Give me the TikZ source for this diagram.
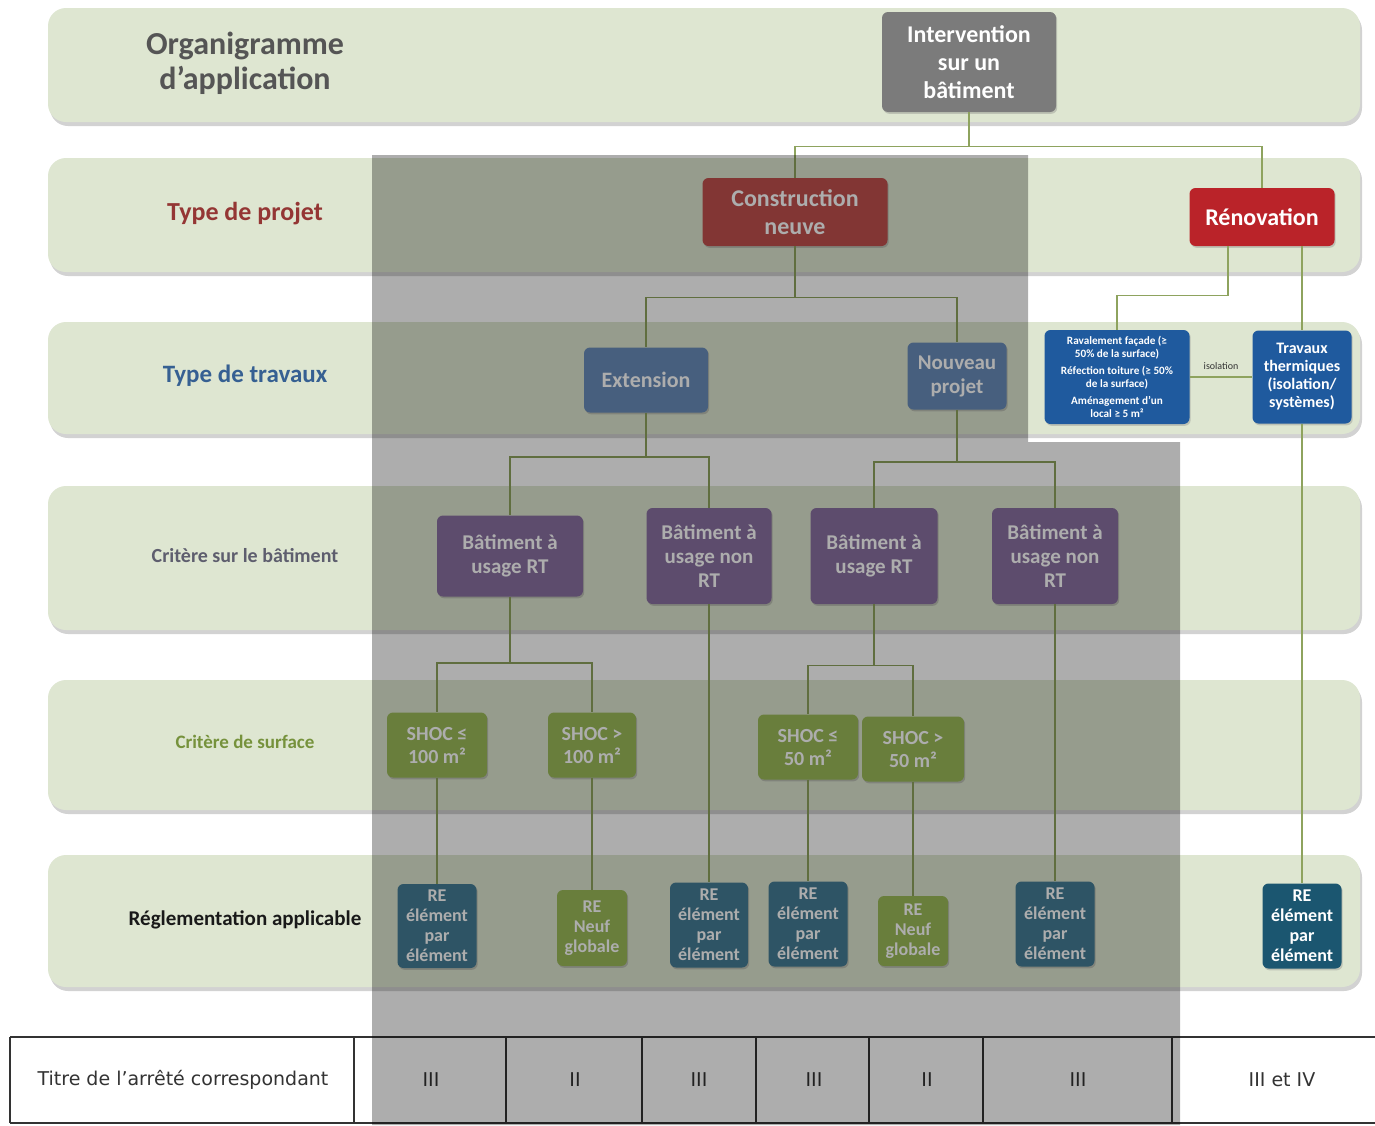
\documentclass[tikz,border=0pt]{standalone}
\usepackage{fontspec}
\setmainfont{Carlito}
\newfontfamily\tablefont{DejaVu Sans}
\usetikzlibrary{shadows}

\definecolor{bandgreen}{HTML}{DEE6D1}
\definecolor{linkgreen}{HTML}{8EA35E}
\definecolor{intergrey}{HTML}{7B7B7B}
\definecolor{newred}{HTML}{C0504D}
\definecolor{renovred}{HTML}{BA2329}
\definecolor{extblue}{HTML}{6A8DBA}
\definecolor{renovblue}{HTML}{1F5A9E}
\definecolor{usepurple}{HTML}{8A71A2}
\definecolor{shocgreen}{HTML}{9BBB59}
\definecolor{reteal}{HTML}{457D96}
\definecolor{renovteal}{HTML}{1B5670}
\definecolor{titlegrey}{HTML}{555555}
\definecolor{projred}{HTML}{943634}
\definecolor{workblue}{HTML}{366092}
\definecolor{critgrey}{HTML}{5E5E6E}
\definecolor{surfgreen}{HTML}{76923C}

\tikzset{
  band/.style={rounded corners=9pt, fill=bandgreen,
    drop shadow={shadow xshift=1pt, shadow yshift=-2pt, opacity=.35}},
  box/.style={rounded corners=3pt, fill=#1, text=white, align=center, inner sep=1pt,
    font=\fontsize{10.5}{12}\selectfont\bfseries,
    drop shadow={shadow xshift=.6pt, shadow yshift=-.9pt, opacity=.35}},
  dims/.style 2 args={minimum width=#1, minimum height=#2},
  rowlabel/.style={align=center, text=#1},
  link/.style={draw=linkgreen, line width=.7pt},
  tableline/.style={draw=black!80, line width=1pt},
  cell/.style={font=\tablefont\fontsize{9.5}{11}\selectfont, text=black!80}
}

\begin{document}
\begin{tikzpicture}[x=0.5pt, y=-0.5pt]
  \useasboundingbox (0,0) rectangle (1375,1125);
  \fill[white] (0,0) rectangle (1375,1125);

  \foreach \t/\b in {8/122, 158/272, 322/434, 486/630, 680/810, 855/987}
    \path[band] (48,\t) rectangle (1360,\b);

  \node[rowlabel=titlegrey, font=\fontsize{16}{17.5}\selectfont\bfseries] (lab1) at (245,63) {Organigramme\\d’application};
  \node[rowlabel=projred, font=\fontsize{13}{15}\selectfont\bfseries] (lab2) at (245,214) {Type de projet};
  \node[rowlabel=workblue, font=\fontsize{12.5}{15}\selectfont\bfseries] (lab3) at (245,376) {Type de travaux};
  \node[rowlabel=critgrey, font=\fontsize{10}{12}\selectfont\bfseries] (lab4) at (245,556) {Critère sur le bâtiment};
  \node[rowlabel=surfgreen, font=\fontsize{9.5}{12}\selectfont\bfseries] (lab5) at (245,742) {Critère de surface};
  \node[rowlabel=black!90, font=\fontsize{10.5}{12}\selectfont\bfseries] (lab6) at (245,920) {Réglementation applicable};

  \node[box=intergrey, dims={87pt}{50pt}, font=\fontsize{12}{14}\selectfont\bfseries] (interv) at (969,62) {Intervention\\sur un\\bâtiment};
  \node[box=newred, dims={92.5pt}{34pt}, font=\fontsize{12}{14}\selectfont\bfseries] (constr) at (795,212) {Construction\\neuve};
  \node[box=renovred, dims={72.5pt}{29pt}, font=\fontsize{12}{14}\selectfont\bfseries] (renov) at (1262,217) {Rénovation};

  \node[box=extblue, dims={62pt}{32.5pt}, font=\fontsize{11}{12}\selectfont\bfseries] (ext) at (646,380) {Extension};
  \node[box=extblue, dims={49.5pt}{33.5pt}] (nouv) at (957,376) {Nouveau\\projet};
  \node[box=renovblue, dims={72.5pt}{47pt}, font=\fontsize{5.6}{6.5}\selectfont\bfseries] (rav) at (1117,377)
    {Ravalement façade (≥\\50\% de la surface)\\[2pt]Réfection toiture (≥ 50\%\\de la surface)\\[2pt]Aménagement d’un\\local ≥ 5 m²};
  \node[box=renovblue, dims={49.5pt}{46.5pt}, font=\fontsize{8}{9}\selectfont\bfseries] (trav) at (1302,377) {Travaux\\thermiques\\(isolation/\\systèmes)};

  \node[box=usepurple, dims={73pt}{40.5pt}] (bat1) at (510,556) {Bâtiment à\\usage RT};
  \node[box=usepurple, dims={62.5pt}{48pt}] (bat2) at (709,556) {Bâtiment à\\usage non\\RT};
  \node[box=usepurple, dims={63.5pt}{48pt}] (bat3) at (874,556) {Bâtiment à\\usage RT};
  \node[box=usepurple, dims={63pt}{48pt}] (bat4) at (1055,556) {Bâtiment à\\usage non\\RT};

  \node[box=shocgreen, dims={50pt}{32.5pt}, font=\fontsize{10}{11.5}\selectfont\bfseries] (shoc1) at (437,745) {SHOC ≤\\100 m²};
  \node[box=shocgreen, dims={44pt}{32.5pt}, font=\fontsize{10}{11.5}\selectfont\bfseries] (shoc2) at (592,745) {SHOC >\\100 m²};
  \node[box=shocgreen, dims={50pt}{32.5pt}, font=\fontsize{10}{11.5}\selectfont\bfseries] (shoc3) at (808,747) {SHOC ≤\\50 m²};
  \node[box=shocgreen, dims={51pt}{32.5pt}, font=\fontsize{10}{11.5}\selectfont\bfseries] (shoc4) at (913,749) {SHOC >\\50 m²};

  \node[box=reteal, dims={39.5pt}{42pt}, font=\fontsize{9}{10}\selectfont\bfseries] (re1) at (437,926) {RE\\élément\\par\\élément};
  \node[box=shocgreen, dims={35pt}{38pt}, font=\fontsize{9}{10}\selectfont\bfseries] (re2) at (592,928) {RE\\Neuf\\globale};
  \node[box=reteal, dims={39pt}{42.5pt}, font=\fontsize{9}{10}\selectfont\bfseries] (re3) at (709,925) {RE\\élément\\par\\élément};
  \node[box=reteal, dims={39.5pt}{42.5pt}, font=\fontsize{9}{10}\selectfont\bfseries] (re4) at (808,924) {RE\\élément\\par\\élément};
  \node[box=shocgreen, dims={35pt}{35pt}, font=\fontsize{9}{10}\selectfont\bfseries] (re5) at (913,931) {RE\\Neuf\\globale};
  \node[box=reteal, dims={39.5pt}{42.5pt}, font=\fontsize{9}{10}\selectfont\bfseries] (re6) at (1055,924) {RE\\élément\\par\\élément};
  \node[box=renovteal, dims={39.5pt}{42.5pt}, font=\fontsize{9}{10}\selectfont\bfseries] (re7) at (1302,926) {RE\\élément\\par\\élément};

  \draw[link] (interv.south) -- ++(0,34) -| (constr.north);
  \draw[link] (interv.south) ++(0,34) -| (renov.north);
  \draw[link] (renov.south -| trav.north) -- (trav.north);
  \draw[link] ([xshift=-17pt]renov.south) -- ++(0,49) -| (rav.north);
  \draw[link] (rav) -- node[above, font=\fontsize{5}{6}\selectfont, text=black!80] (iso) {isolation} (trav);
  \draw[link] (trav) -- (re7);
  \draw[link] (constr.south) -- ++(0,51) -| (ext.north);
  \draw[link] (constr.south) ++(0,51) -| (nouv.north);
  \draw[link] (ext.south) -- ++(0,44) -| (bat1.north);
  \draw[link] (ext.south) ++(0,44) -| (bat2.north);
  \draw[link] (nouv.south) -- ++(0,52) -| (bat3.north);
  \draw[link] (nouv.south) ++(0,52) -| (bat4.north);
  \draw[link] (bat1.south) -- ++(0,66) -| (shoc1.north);
  \draw[link] (bat1.south) ++(0,66) -| (shoc2.north);
  \draw[link] (bat3.south) -- ++(0,61) -| (shoc3.north);
  \draw[link] (bat3.south) ++(0,61) -| (shoc4.north);
  \draw[link] (bat2) -- (re3);
  \draw[link] (bat4) -- (re6);
  \draw[link] (shoc1) -- (re1);
  \draw[link] (shoc2) -- (re2);
  \draw[link] (shoc3) -- (re4);
  \draw[link] (shoc4) -- (re5);

  \draw[tableline] (10,1037) -- (1375,1037) (10,1123) -- (1375,1123);
  \foreach \x in {10, 354, 506, 642, 756, 869, 983, 1172}
    \draw[tableline] (\x,1037) -- (\x,1123);
  \node[cell] (titre) at (183,1080) {Titre de l’arrêté correspondant};
  \node[cell] (tA) at (431,1080) {III};
  \node[cell] (tB) at (575,1080) {II};
  \node[cell] (tC) at (699,1080) {III};
  \node[cell] (tD) at (814,1080) {III};
  \node[cell] (tE) at (927,1080) {II};
  \node[cell] (tF) at (1078,1080) {III};
  \node[cell] (tG) at (1282,1080) {III et IV};

  \fill[black, fill opacity=0.32] (372,155) -- (1028,155) -- (1028,442) -- (1180,442) -- (1180,1125) -- (372,1125) -- cycle;
\end{tikzpicture}
\end{document}
